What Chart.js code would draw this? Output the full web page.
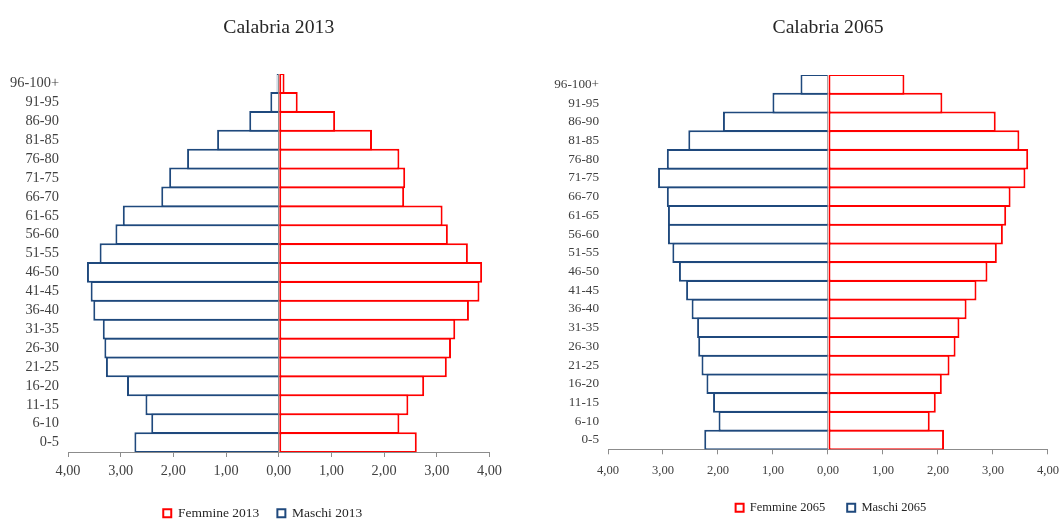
<!DOCTYPE html>
<html>
<head>
<meta charset="utf-8">
<script src="https://cdn.jsdelivr.net/npm/chart.js@4.4.1/dist/chart.umd.min.js"></script>
<style>
  html, body { margin: 0; padding: 0; background: #fff; overflow: hidden; width: 1064px; height: 520px; }
  #box-2013 { position: absolute; left: 0; top: 0; width: 508px; height: 530px; }
  #box-2065 { position: absolute; left: 540px; top: 0; width: 528px; height: 524px; }
</style>
</head>
<body>
<div id="box-2013"><canvas id="chart-2013"></canvas></div>
<div id="box-2065"><canvas id="chart-2065"></canvas></div>
<script>
// classi di eta, dal basso verso l'alto
const ageGroups = ['0-5', '6-10', '11-15', '16-20', '21-25', '26-30', '31-35', '36-40', '41-45', '46-50',
  '51-55', '56-60', '61-65', '66-70', '71-75', '76-80', '81-85', '86-90', '91-95', '96-100+'];

// valori in percentuale
const femmine2013 = [2.62, 2.29, 2.46, 2.76, 3.19, 3.27, 3.35, 3.61, 3.81, 3.86,
  3.59, 3.21, 3.11, 2.38, 2.40, 2.29, 1.77, 1.07, 0.36, 0.11];
const maschi2013 = [2.74, 2.42, 2.53, 2.88, 3.28, 3.31, 3.34, 3.52, 3.57, 3.64,
  3.40, 3.10, 2.96, 2.23, 2.08, 1.74, 1.17, 0.56, 0.16, 0.04];

const femmine2065 = [2.11, 1.85, 1.96, 2.07, 2.21, 2.32, 2.39, 2.52, 2.70, 2.90,
  3.07, 3.18, 3.24, 3.32, 3.59, 3.64, 3.48, 3.05, 2.08, 1.39];
const maschi2065 = [2.25, 1.99, 2.09, 2.21, 2.30, 2.36, 2.38, 2.48, 2.58, 2.71,
  2.83, 2.91, 2.91, 2.93, 3.09, 2.93, 2.54, 1.91, 1.01, 0.50];

const axisMax = 4;
const font = 'Liberation Serif';

// sposta la legenda in orizzontale
const shiftLegend = {
  id: 'shiftLegend',
  afterLayout(chart, args, opts) {
    if (chart.legend && opts.dx) {
      chart.legend.left += opts.dx;
      chart.legend.right += opts.dx;
    }
  }
};

function renderPyramid(id, year, female, male, s) {
  const ctx = document.getElementById(id);
  if (!ctx) {
    console.error('canvas non trovato');
    return;
  }
  return new Chart(ctx, {
    type: 'bar',
    data: {
      labels: ageGroups,
      datasets: [{
        label: 'Femmine ' + year,
        data: female,
        backgroundColor: '#ffffff',
        borderColor: '#ff0000',
        borderWidth: 2,
        borderSkipped: false
      }, {
        label: 'Maschi ' + year,
        data: male.map(v => -v),
        backgroundColor: '#ffffff',
        borderColor: '#1f497d',
        borderWidth: 2,
        borderSkipped: 'start'
      }]
    },
    plugins: [shiftLegend],
    options: {
      indexAxis: 'y',
      responsive: true,
      maintainAspectRatio: false,
      animation: false,
      categoryPercentage: 1,
      barPercentage: 1.1,
      layout: { padding: 0 },
      scales: {
        x: {
          stacked: true,
          min: -axisMax,
          max: axisMax,
          ticks: {
            stepSize: 1,
            padding: s.xPad,
            color: '#404040',
            font: { family: font, size: s.xFont },
            callback: v => Math.abs(v).toFixed(2).replace('.', ',')
          },
          grid: {
            color: c => (c.tick && c.tick.value === 0 ? '#8c8c8c' : 'transparent'),
            tickColor: '#8c8c8c',
            tickLength: 5
          },
          border: { color: '#8c8c8c', width: 1 },
          afterFit: sc => { sc.height = s.xHeight; }
        },
        y: {
          stacked: true,
          reverse: true,
          grid: { display: false, drawTicks: false },
          border: { display: false },
          ticks: {
            autoSkip: false,
            padding: s.yPad,
            color: '#404040',
            font: { family: font, size: s.yFont }
          },
          afterFit: sc => { sc.width = 68; }
        }
      },
      plugins: {
        tooltip: { enabled: false },
        title: {
          display: true,
          text: 'Calabria ' + year,
          fullSize: false,
          color: '#262626',
          font: { family: font, size: 19.7, weight: 'normal' },
          padding: { top: 16, bottom: s.titleBottom }
        },
        legend: {
          position: 'bottom',
          fullSize: false,
          labels: {
            boxWidth: 8,
            boxHeight: 8,
            padding: s.legendPad,
            color: '#262626',
            font: { family: font, size: s.legendFont }
          }
        },
        shiftLegend: { dx: s.legendDx }
      }
    }
  });
}

renderPyramid('chart-2013', '2013', femmine2013, maschi2013, {
  xPad: 6, xFont: 14.3, xHeight: 36.5, yPad: 9, yFont: 14.4,
  titleBottom: 34.4, legendPad: 18, legendFont: 13.5, legendDx: -16
});

renderPyramid('chart-2065', '2065', femmine2065, maschi2065, {
  xPad: 9, xFont: 12.6, xHeight: 30.2, yPad: 9, yFont: 13.2,
  titleBottom: 35.4, legendPad: 22, legendFont: 12.5, legendDx: 3
});
</script>
</body>
</html>
